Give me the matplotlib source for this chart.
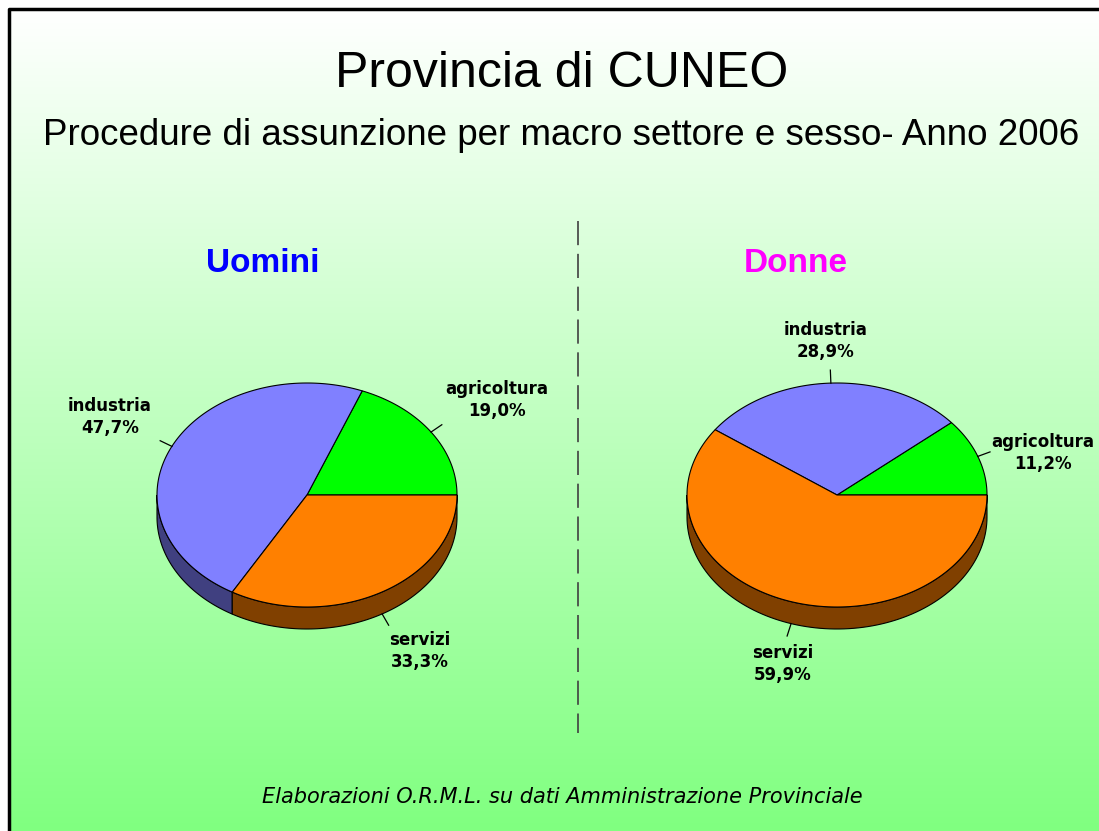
import numpy as np
import matplotlib
matplotlib.use("Agg")
import matplotlib.pyplot as plt
from matplotlib.patches import Polygon

W, H = 1099, 831

# data
sectors = ["agricoltura", "industria", "servizi"]
uomini = [19.0, 47.7, 33.3]
donne = [11.2, 28.9, 59.9]

top_colors = ["#00FF00", "#8080FF", "#FF8000"]
side_colors = ["#008000", "#404080", "#804000"]

# layout (pixel coords, y downwards)
pies = [
    dict(title="Uomini", tcolor="#0000FF", values=uomini, cx=307, cy=495,
         labels=[(497, 400), (110, 417), (420, 651)], tpos=(263, 272)),
    dict(title="Donne", tcolor="#FF00FF", values=donne, cx=837, cy=495,
         labels=[(1043, 453), (826, 341), (783, 664)], tpos=(796, 272)),
]
RX, RY, DEPTH = 150, 112, 22


def ell(cx, cy, t):
    t = np.radians(t)
    return cx + RX * np.cos(t), cy - RY * np.sin(t)


def draw_pie(ax, p):
    vals = np.array(p["values"])
    bounds = np.concatenate([[0], np.cumsum(vals) / vals.sum() * 360])
    cx, cy = p["cx"], p["cy"]

    # side walls (front half only)
    for i in range(len(vals)):
        a, b = max(bounds[i], 180), min(bounds[i + 1], 360)
        if b <= a:
            continue
        t = np.linspace(a, b, 100)
        x, y = ell(cx, cy, t)
        pts = np.column_stack([np.r_[x, x[::-1]], np.r_[y, (y + DEPTH)[::-1]]])
        ax.add_patch(Polygon(pts, closed=True, fc=side_colors[i], ec="black", lw=0.8, zorder=3))

    # top faces
    for i in range(len(vals)):
        t = np.linspace(bounds[i], bounds[i + 1], 200)
        x, y = ell(cx, cy, t)
        pts = np.column_stack([np.r_[cx, x], np.r_[cy, y]])
        ax.add_patch(Polygon(pts, closed=True, fc=top_colors[i], ec="black", lw=0.8, zorder=4))

    # labels with short leaders
    for i in range(len(vals)):
        mid = (bounds[i] + bounds[i + 1]) / 2
        x0, y0 = ell(cx, cy, mid)
        if 180 < mid < 360:
            y0 += DEPTH
        r = np.radians(mid)
        x1, y1 = x0 + 13 * np.cos(r), y0 - 13 * np.sin(r)
        ax.plot([x0, x1], [y0, y1], color="black", lw=0.9, zorder=5)
        lx, ly = p["labels"][i]
        txt = "%s\n%s%%" % (sectors[i], ("%.1f" % vals[i]).replace(".", ","))
        ax.text(lx, ly, txt, ha="center", va="center", multialignment="center",
                fontsize=12, fontweight="bold", family="DejaVu Sans",
                linespacing=1.3, color="black", zorder=6)

    ax.text(p["tpos"][0], p["tpos"][1], p["title"], ha="center", va="baseline",
            fontsize=24, fontweight="bold", family="Liberation Sans", color=p["tcolor"])


fig = plt.figure(figsize=(W / 100, H / 100), dpi=100)
ax = fig.add_axes([0, 0, 1, 1])
ax.set_xlim(0, W)
ax.set_ylim(H, 0)
ax.axis("off")

# background gradient
f = np.linspace(0, 1, 400)[:, None]
grad = np.ones((400, 1, 3))
grad[:, :, 0] = 1 - f * (1 - 128 / 255)
grad[:, :, 2] = 1 - f * (1 - 128 / 255)
ax.imshow(grad, extent=[9, W, H, 9], aspect="auto", zorder=0)
ax.plot([9, 9, W], [H, 9, 9], color="black", lw=2.5, solid_capstyle="projecting", zorder=7)

ax.text(562, 87, "Provincia di CUNEO", ha="center", va="baseline",
        fontsize=36, family="Liberation Sans", color="black")
ax.text(561, 145, "Procedure di assunzione per macro settore e sesso- Anno 2006",
        ha="center", va="baseline", fontsize=26.5, family="Liberation Sans", color="black")

ax.plot([578, 578], [221, 733], color="#404040", lw=1.2, dashes=(14.5, 5.2), zorder=2)

for p in pies:
    draw_pie(ax, p)

ax.text(562, 803, "Elaborazioni O.R.M.L. su dati Amministrazione Provinciale",
        ha="center", va="baseline", fontsize=15, style="italic",
        family="DejaVu Sans", color="black")

fig.savefig("out.png", dpi=100)
